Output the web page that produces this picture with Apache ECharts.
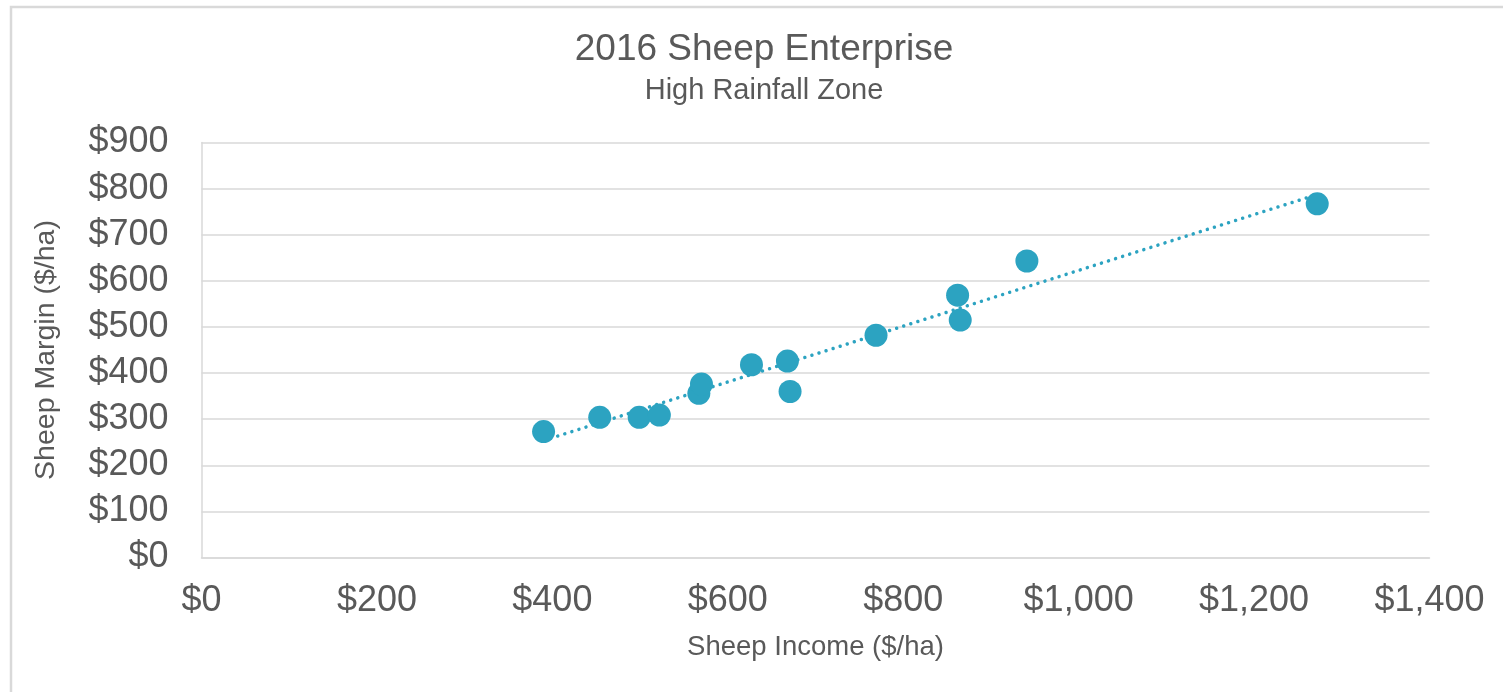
<!DOCTYPE html>
<html>
<head>
<meta charset="utf-8">
<script src="https://cdn.jsdelivr.net/npm/echarts@6/dist/echarts.min.js"></script>
<style>
  html, body { margin: 0; padding: 0; background: #fff; }
  #main { width: 1503px; height: 692px; }
</style>
</head>
<body>
<div id="main"></div>
<script>
// Sheep income ($/ha) vs sheep margin ($/ha)
const income = [390, 454, 499, 522, 567, 570, 627, 668, 671, 769, 862, 865, 941, 1272]
const margin = [273, 304, 304, 309, 356, 376, 418, 426, 360, 482, 569, 515, 643, 767]

const xTicks = { min: 0, max: 1400, interval: 200 }
const yTicks = { min: 0, max: 900, interval: 100 }

const color = '#2ca3c1'
const textColor = '#595959'
const lineGray = '#d9d9d9'
const font = '"Liberation Sans", Arial, sans-serif'

const money = v => '$' + v.toLocaleString('en-US')

// linear trendline (least squares), drawn across the data's x range
const n = income.length
const mx = income.reduce((a, b) => a + b, 0) / n
const my = margin.reduce((a, b) => a + b, 0) / n
let sxy = 0, sxx = 0
income.forEach((x, i) => { sxy += (x - mx) * (margin[i] - my); sxx += (x - mx) * (x - mx) })
const slope = sxy / sxx
const intercept = my - slope * mx
const x0 = Math.min(...income), x1 = Math.max(...income)
const trend = [[x0, intercept + slope * x0], [x1, intercept + slope * x1]]

const chart = echarts.init(document.getElementById('main'))
chart.setOption({
  animation: false,
  textStyle: { fontFamily: font },
  graphic: [
    {
      type: 'rect', silent: true, z: -10,
      shape: { x: 11, y: 7, width: 1700, height: 900 },
      style: { fill: 'none', stroke: lineGray, lineWidth: 2.5 }
    },
    {
      type: 'text', x: 764, y: 50,
      style: { text: '2016 Sheep Enterprise', fill: textColor, font: '37px ' + font, textAlign: 'center', textVerticalAlign: 'middle' }
    },
    {
      type: 'text', x: 764, y: 91,
      style: { text: 'High Rainfall Zone', fill: textColor, font: '29px ' + font, textAlign: 'center', textVerticalAlign: 'middle' }
    }
  ],
  grid: { left: 201.5, right: 73.5, top: 142.5, bottom: 134.5 },
  xAxis: {
    type: 'value',
    min: xTicks.min, max: xTicks.max, interval: xTicks.interval,
    name: 'Sheep Income ($/ha)',
    nameLocation: 'middle',
    nameGap: 76,
    nameTextStyle: { fontSize: 27.5, color: textColor },
    axisLine: { show: true, lineStyle: { color: lineGray, width: 1.5 } },
    axisTick: { show: false },
    splitLine: { show: false },
    axisLabel: { fontSize: 36, color: textColor, margin: 26, formatter: money }
  },
  yAxis: {
    type: 'value',
    min: yTicks.min, max: yTicks.max, interval: yTicks.interval,
    name: 'Sheep Margin ($/ha)',
    nameLocation: 'middle',
    nameGap: 141,
    nameTextStyle: { fontSize: 28.5, color: textColor },
    axisLine: { show: true, lineStyle: { color: lineGray, width: 1.5 } },
    axisTick: { show: false },
    splitLine: { show: true, lineStyle: { color: lineGray, width: 1.5 } },
    axisLabel: { fontSize: 36, color: textColor, margin: 33, formatter: money }
  },
  series: [
    {
      name: 'Trend',
      type: 'line',
      data: trend,
      showSymbol: false,
      silent: true,
      z: 1,
      lineStyle: { color: color, width: 3.5, type: [0.01, 7.4], cap: 'round' }
    },
    {
      name: 'Sheep',
      type: 'scatter',
      data: income.map((x, i) => [x, margin[i]]),
      symbol: 'circle',
      symbolSize: 23,
      z: 2,
      itemStyle: { color: color, opacity: 1 }
    }
  ]
})
</script>
</body>
</html>
